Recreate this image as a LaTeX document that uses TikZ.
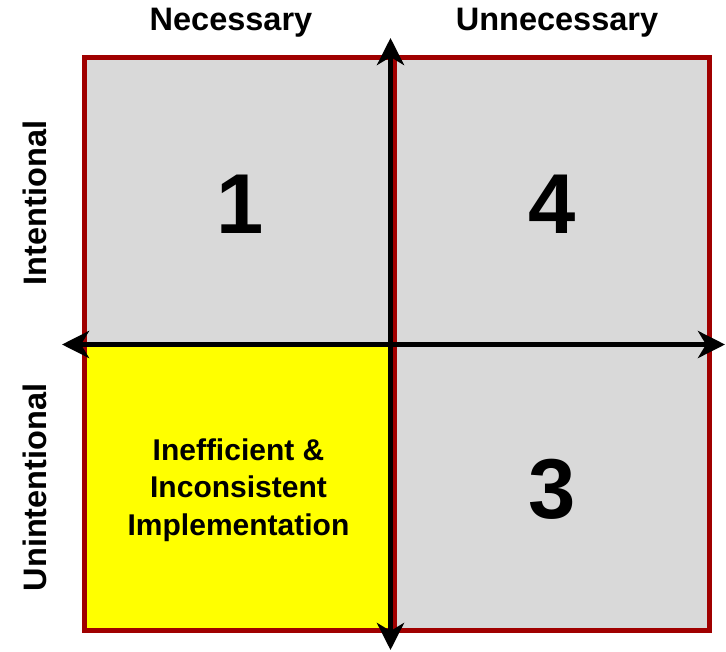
\documentclass[tikz,border=0pt]{standalone}
\usepackage{fontspec}
\setmainfont{Liberation Sans}[BoldFont={Liberation Sans Bold}]
\usetikzlibrary{arrows.meta}
\definecolor{boxred}{HTML}{A00000}
\definecolor{boxgrey}{HTML}{D9D9D9}
\definecolor{boxyellow}{HTML}{FFFF00}
\tikzset{
  quad/.style={draw=boxred, line width=4.5pt, fill=boxgrey},
  hilite/.style={quad, fill=boxyellow},
  axis/.style={line width=5.5pt, black, {Stealth[length=27pt,width=27pt,inset=8pt]}-{Stealth[length=27pt,width=27pt,inset=8pt]}},
  head/.style={font=\bfseries\fontsize{32.5}{39}\selectfont, inner sep=0pt, anchor=base},
  side/.style={head, rotate=90},
  num/.style={font=\bfseries\fontsize{85}{90}\selectfont, inner sep=0pt, anchor=base},
  inner/.style={font=\bfseries\fontsize{30}{37.5}\selectfont, inner sep=0pt, align=center}
}
\begin{document}
\begin{tikzpicture}[x=1pt,y=-1pt]
\useasboundingbox (0,0) rectangle (726,651);
% quadrants
\path[quad] (84.5,57.5) rectangle (390,344.5);
\path[quad] (394.5,57.5) rectangle (709.5,344.5);
\path[hilite] (84.5,344.5) rectangle (390,630.5);
\path[quad] (394.5,344.5) rectangle (709.5,630.5);
% labels
\node[head] (nec) at (231,30.5) {Necessary};
\node[head] (unnec) at (557,30.5) {Unnecessary};
\node[side] (int) at (46.5,203) {Intentional};
\node[side] (unint) at (46.5,487.5) {Unintentional};
\node[num] (q1) at (240,233) {1};
\node[num] (q4) at (552,233) {4};
\node[num] (q3) at (552,518) {3};
\node[inner] (q2) at (238.5,490) {Inefficient \&\\Inconsistent\\Implementation};
% axes
\coordinate (vtop) at (390.5,38);
\coordinate (vbot) at (390.5,650);
\coordinate (hleft) at (62,344.5);
\coordinate (hright) at (725,344.5);
\draw[axis] (vbot) -- (vtop);
\draw[axis] (hleft) -- (hright);
\end{tikzpicture}
\end{document}
